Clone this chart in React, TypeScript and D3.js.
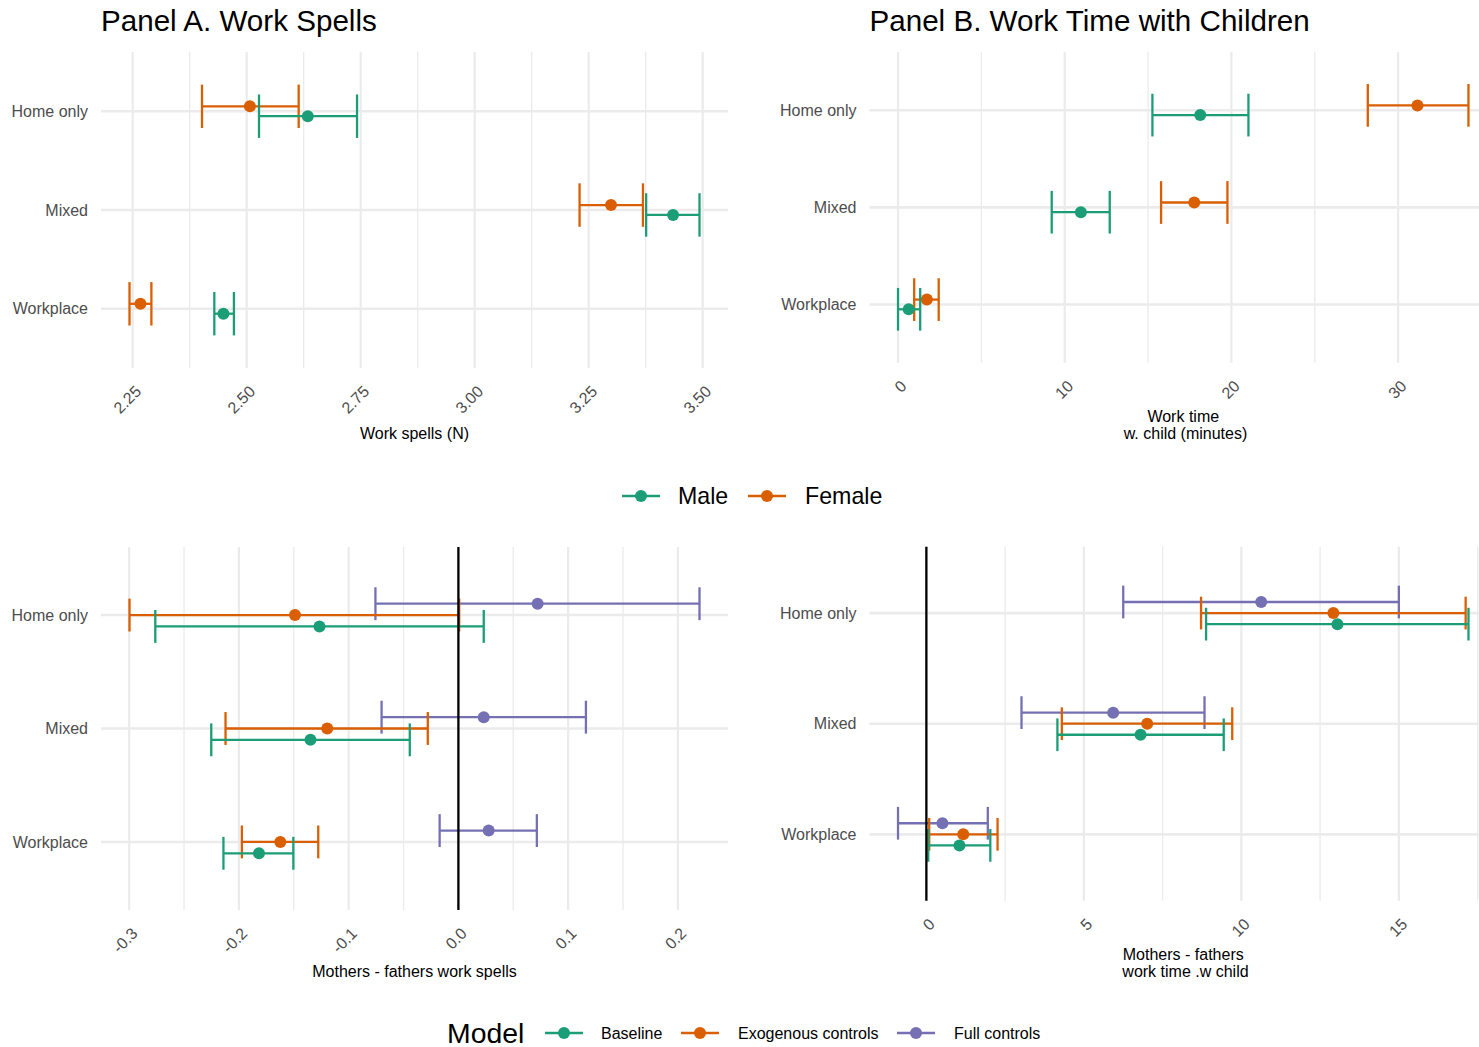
import React from "react";
import * as d3 from "d3";

// ---------------- DATA ----------------
const categories = ["Home only", "Mixed", "Workplace"];

// Panel A: work spells (N)
const spellsMaleEst = [2.634, 3.435, 2.449];
const spellsMaleLo = [2.527, 3.376, 2.429];
const spellsMaleHi = [2.742, 3.493, 2.472];
const spellsFemaleEst = [2.507, 3.299, 2.267];
const spellsFemaleLo = [2.402, 3.23, 2.243];
const spellsFemaleHi = [2.614, 3.369, 2.291];

// Panel B: work time with child (minutes)
const timeMaleEst = [18.13, 10.97, 0.64];
const timeMaleLo = [15.26, 9.22, 0.0];
const timeMaleHi = [21.02, 12.7, 1.33];
const timeFemaleEst = [31.16, 17.77, 1.73];
const timeFemaleLo = [28.18, 15.78, 0.97];
const timeFemaleHi = [34.22, 19.76, 2.44];

// Panel C: mothers - fathers work spells
const dSpellsBaseEst = [-0.1266, -0.1348, -0.1817];
const dSpellsBaseLo = [-0.2762, -0.2252, -0.2141];
const dSpellsBaseHi = [0.0231, -0.0443, -0.1504];
const dSpellsExogEst = [-0.1489, -0.1195, -0.1623];
const dSpellsExogLo = [-0.2997, -0.2122, -0.1973];
const dSpellsExogHi = [0.0007, -0.0279, -0.1277];
const dSpellsFullEst = [0.0722, 0.0231, 0.0276];
const dSpellsFullLo = [-0.0756, -0.07, -0.0171];
const dSpellsFullHi = [0.2197, 0.1162, 0.0715];

// Panel D: mothers - fathers work time w. child
const dTimeBaseEst = [13.05, 6.8, 1.05];
const dTimeBaseLo = [8.88, 4.16, 0.06];
const dTimeBaseHi = [17.21, 9.44, 2.03];
const dTimeExogEst = [12.92, 7.01, 1.17];
const dTimeExogLo = [8.72, 4.3, 0.09];
const dTimeExogHi = [17.12, 9.71, 2.26];
const dTimeFullEst = [10.63, 5.93, 0.51];
const dTimeFullLo = [6.25, 3.02, -0.9];
const dTimeFullHi = [15.0, 8.83, 1.95];

// Ticks
const ticksA = [2.25, 2.5, 2.75, 3.0, 3.25, 3.5];
const tickLabelsA = ["2.25", "2.50", "2.75", "3.00", "3.25", "3.50"];
const minorA = [2.125, 2.375, 2.625, 2.875, 3.125, 3.375, 3.625];
const ticksB = [0, 10, 20, 30];
const tickLabelsB = ["0", "10", "20", "30"];
const minorB = [-5, 5, 15, 25, 35];
const ticksC = [-0.3, -0.2, -0.1, 0.0, 0.1, 0.2];
const tickLabelsC = ["-0.3", "-0.2", "-0.1", "0.0", "0.1", "0.2"];
const minorC = [-0.35, -0.25, -0.15, -0.05, 0.05, 0.15, 0.25];
const ticksD = [0, 5, 10, 15];
const tickLabelsD = ["0", "5", "10", "15"];
const minorD = [-2.5, 2.5, 7.5, 12.5, 17.5];

const genderLabels = ["Male", "Female"];
const modelLabels = ["Baseline", "Exogenous controls", "Full controls"];

const GREEN = "#1B9E77";
const ORANGE = "#D95F02";
const PURPLE = "#7570B3";

const FONT = "'Liberation Sans', Arial, Helvetica, sans-serif";
const GRID = "#EBEBEB";
const AXIS_TEXT = "#4D4D4D";

type Series = { name: string; color: string; est: number[]; lo: number[]; hi: number[] };

type PanelProps = {
  x0: number;
  x1: number;
  y0: number;
  y1: number;
  series: Series[];
  dodge: number;
  capHalf: number;
  ticks: number[];
  tickLabels: string[];
  minor: number[];
  vline?: boolean;
  title?: string;
  axisTitle: string[];
  axisTitleY: number;
};

function Panel(p: PanelProps) {
  const all: number[] = [];
  p.series.forEach((s) => {
    all.push(...s.lo, ...s.hi, ...s.est);
  });
  const [mn, mx] = d3.extent(all) as [number, number];
  const span = mx - mn;
  const x = d3.scaleLinear().domain([mn - 0.05 * span, mx + 0.05 * span]).range([p.x0, p.x1]);
  const y = d3.scalePoint<string>().domain(categories).range([p.y0, p.y1]).padding(0.6);
  const step = y.step();
  const [dmin, dmax] = x.domain();
  const k = p.series.length;

  return (
    <g>
      {p.minor
        .filter((v) => v >= dmin && v <= dmax)
        .map((v, i) => (
          <line key={"mi" + i} x1={x(v)} x2={x(v)} y1={p.y0} y2={p.y1} stroke={GRID} strokeWidth={1.3} />
        ))}
      {p.ticks.map((v, i) => (
        <line key={"ma" + i} x1={x(v)} x2={x(v)} y1={p.y0} y2={p.y1} stroke={GRID} strokeWidth={2.2} />
      ))}
      {categories.map((c, i) => (
        <line key={"gy" + i} x1={p.x0} x2={p.x1} y1={y(c)} y2={y(c)} stroke={GRID} strokeWidth={2.6} />
      ))}
      {categories.map((c, i) => (
        <text
          key={"yl" + i}
          x={p.x0 - 13}
          y={(y(c) as number) + 5.6}
          textAnchor="end"
          fontSize={16}
          fill={AXIS_TEXT}
          fontFamily={FONT}
        >
          {c}
        </text>
      ))}
      {p.ticks.map((v, i) => {
        const ax = x(v) + 9.5;
        const ay = p.y1 + 24.5;
        return (
          <text
            key={"xt" + i}
            x={ax}
            y={ay}
            transform={`rotate(-45 ${ax} ${ay})`}
            textAnchor="end"
            fontSize={16}
            fill={AXIS_TEXT}
            fontFamily={FONT}
          >
            {p.tickLabels[i]}
          </text>
        );
      })}
      {p.series.map((s, si) => {
        const off = (si - (k - 1) / 2) * p.dodge * step;
        return (
          <g key={"s" + si}>
            {categories.map((c, ci) => {
              const cy = (y(c) as number) + off;
              const xl = x(s.lo[ci]);
              const xh = x(s.hi[ci]);
              const ch = p.capHalf * step;
              return (
                <g key={"e" + ci}>
                  <line x1={xl} x2={xh} y1={cy} y2={cy} stroke={s.color} strokeWidth={2.3} />
                  <line x1={xl} x2={xl} y1={cy - ch} y2={cy + ch} stroke={s.color} strokeWidth={2.3} />
                  <line x1={xh} x2={xh} y1={cy - ch} y2={cy + ch} stroke={s.color} strokeWidth={2.3} />
                  <circle cx={x(s.est[ci])} cy={cy} r={6} fill={s.color} />
                </g>
              );
            })}
          </g>
        );
      })}
      {p.vline && <line x1={x(0)} x2={x(0)} y1={p.y0} y2={p.y1} stroke="#000" strokeWidth={2.3} />}
      {p.axisTitle.map((t, i) => (
        <text
          key={"at" + i}
          x={(p.x0 + p.x1) / 2}
          y={p.axisTitleY + i * 17}
          textAnchor="middle"
          fontSize={16}
          fill="#000"
          fontFamily={FONT}
          style={{ whiteSpace: "pre" }}
        >
          {t}
        </text>
      ))}
      {p.title && (
        <text x={p.x0} y={31} fontSize={29.6} fill="#000" fontFamily={FONT}>
          {p.title}
        </text>
      )}
    </g>
  );
}

function LegendKey({ x, y, color }: { x: number; y: number; color: string }) {
  return (
    <g>
      <line x1={x} x2={x + 38} y1={y} y2={y} stroke={color} strokeWidth={2.3} />
      <circle cx={x + 19} cy={y} r={6} fill={color} />
    </g>
  );
}

export default function App() {
  const LX0 = 101;
  const LX1 = 728;
  const RX0 = 869.5;
  const RX1 = 1497;

  const seriesA: Series[] = [
    { name: genderLabels[1], color: ORANGE, est: spellsFemaleEst, lo: spellsFemaleLo, hi: spellsFemaleHi },
    { name: genderLabels[0], color: GREEN, est: spellsMaleEst, lo: spellsMaleLo, hi: spellsMaleHi },
  ];
  const seriesB: Series[] = [
    { name: genderLabels[1], color: ORANGE, est: timeFemaleEst, lo: timeFemaleLo, hi: timeFemaleHi },
    { name: genderLabels[0], color: GREEN, est: timeMaleEst, lo: timeMaleLo, hi: timeMaleHi },
  ];
  const seriesC: Series[] = [
    { name: modelLabels[2], color: PURPLE, est: dSpellsFullEst, lo: dSpellsFullLo, hi: dSpellsFullHi },
    { name: modelLabels[1], color: ORANGE, est: dSpellsExogEst, lo: dSpellsExogLo, hi: dSpellsExogHi },
    { name: modelLabels[0], color: GREEN, est: dSpellsBaseEst, lo: dSpellsBaseLo, hi: dSpellsBaseHi },
  ];
  const seriesD: Series[] = [
    { name: modelLabels[2], color: PURPLE, est: dTimeFullEst, lo: dTimeFullLo, hi: dTimeFullHi },
    { name: modelLabels[1], color: ORANGE, est: dTimeExogEst, lo: dTimeExogLo, hi: dTimeExogHi },
    { name: modelLabels[0], color: GREEN, est: dTimeBaseEst, lo: dTimeBaseLo, hi: dTimeBaseHi },
  ];

  const topKeys = [622, 748];
  const topTexts = [678, 805];
  const botKeys = [545, 681, 897];
  const botTexts = [601, 738, 954];

  return (
    <div style={{ position: "absolute", left: 0, top: 0, width: 1479, height: 1047, overflow: "hidden", background: "#fff" }}>
      <svg width={1479} height={1047} style={{ display: "block" }}>
        <rect width={1479} height={1047} fill="#fff" />
        <Panel
          x0={LX0}
          x1={LX1}
          y0={52}
          y1={368}
          series={seriesA}
          dodge={0.1}
          capHalf={0.22}
          ticks={ticksA}
          tickLabels={tickLabelsA}
          minor={minorA}
          title="Panel A. Work Spells"
          axisTitle={["Work spells (N)"]}
          axisTitleY={439}
        />
        <Panel
          x0={RX0}
          x1={RX1}
          y0={52}
          y1={362.7}
          series={seriesB}
          dodge={0.1}
          capHalf={0.22}
          ticks={ticksB}
          tickLabels={tickLabelsB}
          minor={minorB}
          title="Panel B. Work Time with Children"
          axisTitle={["Work time", " w. child (minutes)"]}
          axisTitleY={422}
        />
        <Panel
          x0={LX0}
          x1={LX1}
          y0={547}
          y1={910}
          series={seriesC}
          dodge={0.1}
          capHalf={0.145}
          ticks={ticksC}
          tickLabels={tickLabelsC}
          minor={minorC}
          vline
          axisTitle={["Mothers - fathers work spells"]}
          axisTitleY={977}
        />
        <Panel
          x0={RX0}
          x1={RX1}
          y0={546.7}
          y1={900.7}
          series={seriesD}
          dodge={0.1}
          capHalf={0.148}
          ticks={ticksD}
          tickLabels={tickLabelsD}
          minor={minorD}
          vline
          axisTitle={["Mothers - fathers", " work time .w child"]}
          axisTitleY={960}
        />
        {[GREEN, ORANGE].map((c, i) => (
          <g key={"tl" + i}>
            <LegendKey x={topKeys[i]} y={496} color={c} />
            <text x={topTexts[i]} y={504.3} fontSize={23.2} fill="#000" fontFamily={FONT}>
              {genderLabels[i]}
            </text>
          </g>
        ))}
        <text x={447} y={1042.5} fontSize={28.4} fill="#000" fontFamily={FONT}>
          Model
        </text>
        {[GREEN, ORANGE, PURPLE].map((c, i) => (
          <g key={"bl" + i}>
            <LegendKey x={botKeys[i]} y={1033} color={c} />
            <text x={botTexts[i]} y={1038.8} fontSize={16} fill="#000" fontFamily={FONT}>
              {modelLabels[i]}
            </text>
          </g>
        ))}
      </svg>
    </div>
  );
}
